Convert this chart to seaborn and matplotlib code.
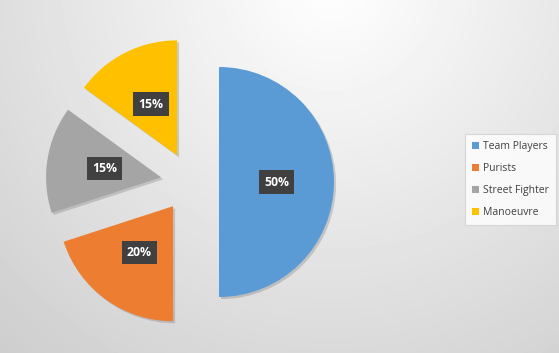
import matplotlib
matplotlib.use("Agg")
import matplotlib.pyplot as plt
import matplotlib.patheffects as pe
from matplotlib.patches import Patch
import seaborn as sns
import numpy as np

categories = ["Team Players", "Purists", "Street Fighter", "Manoeuvre"]
values = [50, 20, 15, 15]
colors = ["#5B9BD5", "#ED7D31", "#A5A5A5", "#FFC000"]
explode = [0.247, 0.26, 0.26, 0.26]

sns.set_style("white")
plt.rcParams['font.family'] = ['Open Sans', 'DejaVu Sans']

W, H = 559, 353
fig = plt.figure(figsize=(W / 100, H / 100), dpi=100)

# background radial gradient
bg = fig.add_axes([0, 0, 1, 1])
yy, xx = np.mgrid[0:H, 0:W]
d = np.hypot(xx - 330, yy + 20)
v = np.clip(255 - 0.1 * d, 205, 255) / 255
bg.imshow(v, cmap='gray', vmin=0, vmax=1, aspect='auto', extent=(0, W, H, 0))
bg.axis('off')

ax = fig.add_axes([0, 0, 1, 1])
ax.patch.set_alpha(0)
wedges, texts, autotexts = ax.pie(
    values, colors=colors, explode=explode, startangle=90, counterclock=False,
    autopct='%1.0f%%', pctdistance=0.5, radius=1,
    wedgeprops=dict(linewidth=0))
for w in wedges:
    w.set_path_effects([pe.SimplePatchShadow(offset=(1.5, -1.5), shadow_rgbFace='#000000', alpha=0.15), pe.Normal()])
for t in autotexts:
    t.set_color('white')
    t.set_fontweight('bold')
    t.set_fontsize(8.8)
    t.set_bbox(dict(boxstyle='square,pad=0.42', fc='#404040', ec='none'))

R = 115.0
cx, cy = 190.6, 182.0
ax.set_xlim(-cx / R, (W - cx) / R)
ax.set_ylim(-(H - cy) / R, cy / R)
ax.set_aspect('auto')
ax.axis('off')

handles = [Patch(facecolor=c, edgecolor='none') for c in colors]
leg = fig.legend(handles, categories, loc='upper left',
                 bbox_to_anchor=(465 / W, 1 - 134 / H),
                 frameon=True, fancybox=False, fontsize=7.5,
                 handlelength=0.65, handleheight=0.65, handletextpad=0.35,
                 labelspacing=1.05, borderpad=0.7, borderaxespad=0,
                 labelcolor='#404040')
leg.get_frame().set_edgecolor('#cfcfcf')
leg.get_frame().set_facecolor((1, 1, 1, 0.2))
leg.get_frame().set_linewidth(0.8)

fig.savefig('out.png', dpi=100)
